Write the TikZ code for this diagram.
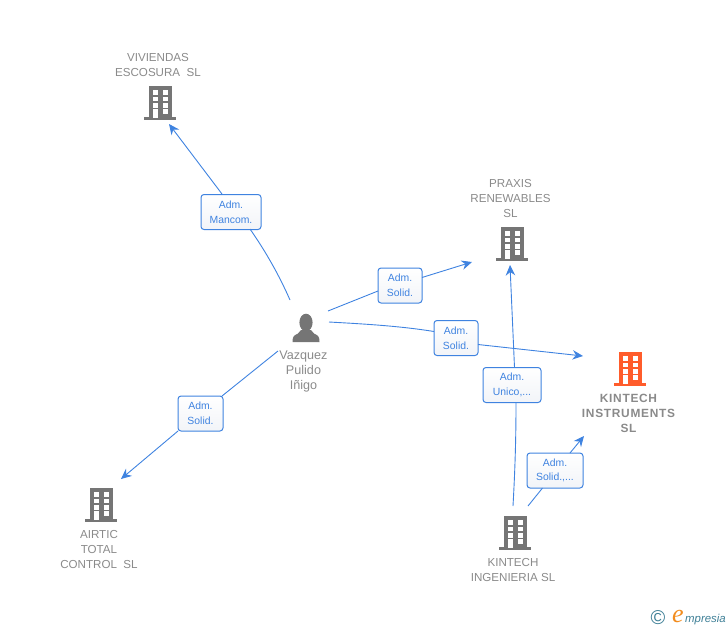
\documentclass[tikz,border=0pt]{standalone}
\usepackage{fontspec}
\setmainfont{Liberation Sans}
\newfontfamily\logofont{Liberation Serif}
\newfontfamily\spacedfont[LetterSpace=6]{Liberation Sans}
\usetikzlibrary{arrows.meta}
\definecolor{conn}{HTML}{3F83E0}
\definecolor{txtgray}{HTML}{8A8A8A}
\definecolor{icongray}{HTML}{757575}
\definecolor{iconorange}{HTML}{FF5C2B}
\definecolor{logoteal}{HTML}{3E7F96}
\definecolor{logoorange}{HTML}{F28C1E}
\definecolor{boxshade}{HTML}{F2F4F8}
\tikzset{
  bldg/.pic={
    \fill[pic actions] (-11,0) rectangle (12,32);
    \fill[pic actions] (-16,31) rectangle (16,34);
    \foreach \yy/\hh in {4/4.5,10.5/4.3,17/4.5,23/5}{
      \fill[white] (-7,\yy) rectangle ++(5,\hh);
      \fill[white] (2.7,\yy) rectangle ++(5,\hh);
    }
    \fill[white] (-7,23.5) rectangle (-2.5,32);
  },
  conline/.style={draw=conn,line width=0.9pt},
  conarrow/.style={conline,-{Stealth[length=10.5pt,width=9.5pt,inset=3.5pt]}},
  rolebox/.style={draw=conn,line width=1pt,rounded corners=3pt,top color=white,bottom color=boxshade,inner sep=0pt,
     text=conn,align=center,font=\fontsize{10.4}{14.6}\selectfont},
  entity/.style={text=txtgray,align=center,inner sep=0pt,font=\fontsize{11.6}{15}\selectfont},
  personlabel/.style={text=txtgray,align=center,inner sep=0pt,font=\fontsize{12.6}{15}\selectfont},
  mainentity/.style={text=txtgray,align=center,inner sep=0pt,font=\spacedfont\bfseries\fontsize{11.9}{15}\selectfont},
}
\begin{document}
\begin{tikzpicture}[x=1pt,y=-1pt]
\useasboundingbox (0,0) rectangle (728,630);
% icons
\pic[fill=icongray] at (160,86) {bldg};
\pic[fill=icongray] at (512,227) {bldg};
\pic[fill=iconorange] at (630,352) {bldg};
\pic[fill=icongray] at (101,488) {bldg};
\pic[fill=icongray] at (515,516) {bldg};
\fill[icongray] (306,322.5) ellipse (6.6 and 8.8);
\fill[icongray] (292.5,342) .. controls (292.5,336) and (294,335.5) .. (298,333.5) -- (301,330) -- (311,330) -- (314,333.5) .. controls (318,335.5) and (319.5,336) .. (319.5,342) -- cycle;
% entity labels
\node[entity] (viv) at (158,65) {VIVIENDAS\\ESCOSURA\ \ SL};
\node[entity] (pra) at (510.5,198.7) {PRAXIS\\RENEWABLES\\SL};
\node[mainentity] (kin) at (628.5,413) {KINTECH\\INSTRUMENTS\\SL};
\node[entity] (air) at (99,549) {AIRTIC\\TOTAL\\CONTROL\ \ SL};
\node[entity] (ing) at (513,570) {KINTECH\\INGENIERIA SL};
\node[personlabel] (per) at (303.5,371) {Vazquez\\Pulido\\Iñigo};
% role boxes
\node[rolebox,minimum width=60pt,minimum height=35pt] (b1) at (231,212) {Adm.\\Mancom.};
\node[rolebox,minimum width=44pt,minimum height=35pt] (b2) at (400,285.5) {Adm.\\Solid.};
\node[rolebox,minimum width=44pt,minimum height=35pt] (b3) at (456,338) {Adm.\\Solid.};
\node[rolebox,minimum width=45pt,minimum height=35pt] (b4) at (200.5,413.5) {Adm.\\Solid.};
\node[rolebox,minimum width=58pt,minimum height=35pt] (b5) at (512,385) {Adm.\\Unico,...};
\node[rolebox,minimum width=56pt,minimum height=35pt] (b6) at (555,470.5) {Adm.\\Solid.,...};
% connector ends
\coordinate (p1) at (290,300);
\coordinate (p2) at (328,311);
\coordinate (p3) at (329,322);
\coordinate (p4) at (278,351);
\coordinate (k1) at (513,506);
\coordinate (k2) at (528,506);
\coordinate (tviv) at (169,124);
\coordinate (tpra) at (472,262);
\coordinate (tkin) at (583,356);
\coordinate (tair) at (121,479);
\coordinate (tpr2) at (510,265);
\coordinate (tki2) at (584,436);
% connectors
\draw[conline] (p1) .. controls (279,275) and (266,252) .. (250,229);
\draw[conarrow] (222,194) -- (tviv);
\draw[conline] (p2) -- (378,291);
\draw[conarrow] (422,277.5) -- (tpra);
\draw[conline] (p3) .. controls (365,324) and (400,326) .. (434,331.5);
\draw[conarrow] (478,344.5) -- (tkin);
\draw[conline] (p4) -- (222,396);
\draw[conarrow] (178,431) -- (tair);
\draw[conline] (k1) .. controls (515,470) and (516,440) .. (516,402.5);
\draw[conarrow] (514.5,367.5) -- (tpr2);
\draw[conline] (k2) -- (542.5,488);
\draw[conarrow] (570,453) -- (tki2);
% logo
\node[inner sep=0pt,text=logoteal,font=\fontsize{20}{20}\selectfont] (copy) at (658,618) {©};
\node[inner sep=0pt,text=logoorange,font=\logofont\itshape\fontsize{26}{26}\selectfont] (loge) at (678,616) {e};
\node[inner sep=0pt,anchor=west,text=logoteal,font=\itshape\fontsize{11.4}{14}\selectfont] (logt) at (685,619.5) {mpresia};
\end{tikzpicture}
\end{document}
